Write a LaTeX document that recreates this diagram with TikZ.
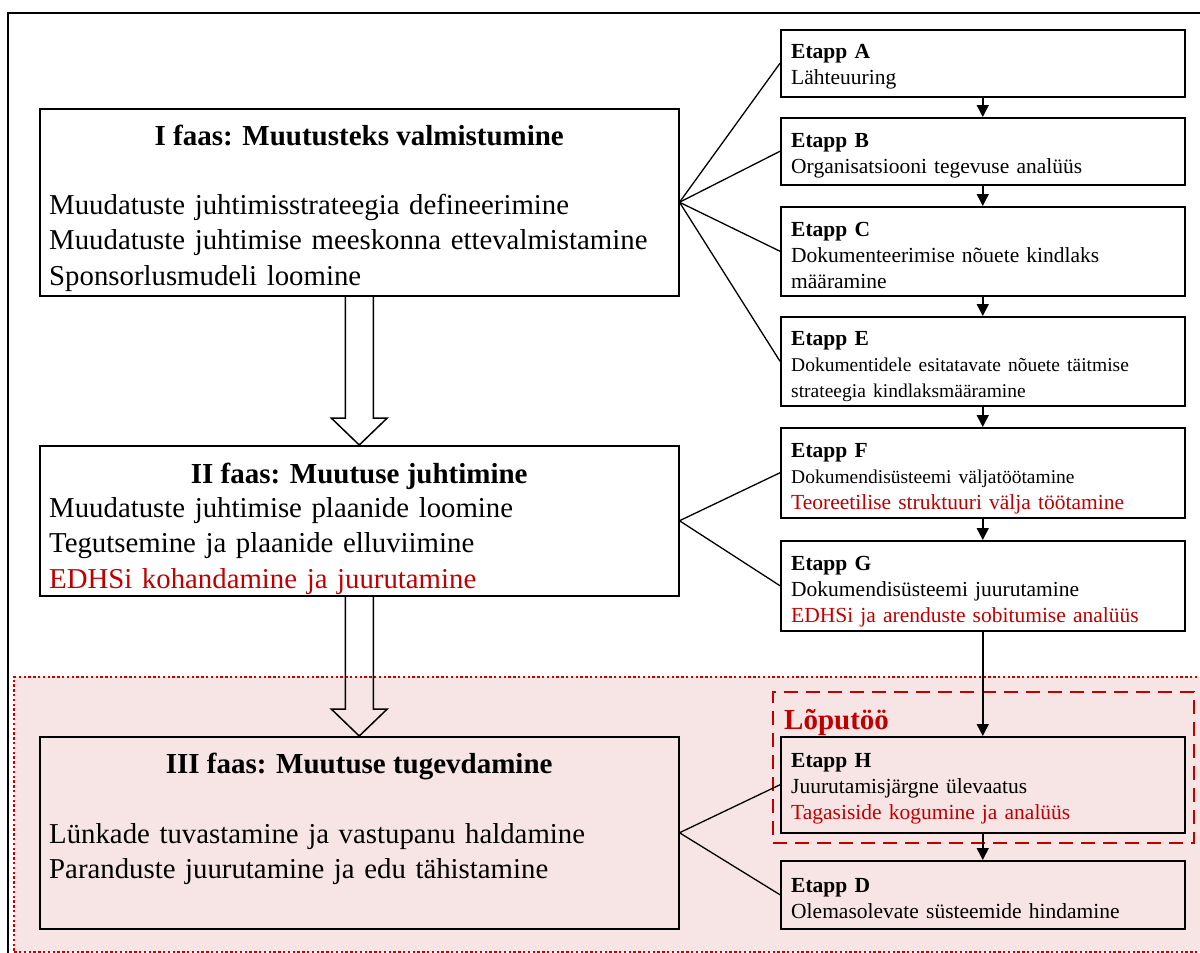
\documentclass[tikz,border=0pt]{standalone}
\usepackage{fontspec}
\setmainfont{Liberation Serif}
\usepackage{tikz}
\usetikzlibrary{arrows.meta, positioning, calc}

\definecolor{thesisred}{RGB}{192,0,0}
\definecolor{regionred}{RGB}{204,0,0}
\definecolor{thesispink}{RGB}{247,229,229}
\newcommand{\etappsmall}{\fontsize{19.5}{26}\selectfont}

\begin{document}
\begin{tikzpicture}[
    x=1pt, y=-1pt,
    phasebox/.style={draw=black, line width=1.5pt, anchor=north west, minimum width=639pt, inner sep=0pt},
    etappbox/.style={draw=black, line width=1.5pt, anchor=north west, minimum width=404pt, inner sep=0pt},
    phasetitle/.style={anchor=base, inner sep=0pt, font=\fontsize{29}{35}\selectfont\bfseries},
    phasetext/.style={anchor=base west, inner sep=0pt, text width=620pt, align=left, font=\fontsize{28.8}{35.5}\selectfont},
    etapptext/.style={anchor=base west, inner sep=0pt, text width=390pt, align=left, font=\fontsize{21.5}{26}\selectfont},
    link/.style={line width=1.3pt},
    flow/.style={line width=1.5pt, -{Triangle[length=12pt, width=12pt]}},
    hollowarrow/.style={draw=black, line width=1.5pt, line join=miter},
    ]

    \useasboundingbox (0,0) rectangle (1200,953);

    \node[draw=black, line width=1.6pt, anchor=north west, minimum width=1220pt, minimum height=960pt, inner sep=0pt] (frame) at (7,12) {};
    \node[draw=regionred, fill=thesispink, line width=2.2pt, dash pattern=on 2.4pt off 2.4pt, anchor=north west, minimum width=1210pt, minimum height=275pt, inner sep=0pt] (region) at (13,676) {};
    \node[draw=thesisred, line width=2.4pt, dash pattern=on 14pt off 8pt, anchor=north west, minimum width=421pt, minimum height=151pt, inner sep=0pt] (thesis) at (772,691) {};
    \node[anchor=base west, inner sep=0pt, text=thesisred, font=\fontsize{29}{35}\selectfont\bfseries] (thesislabel) at (784,729) {Lõputöö};

    \node[phasebox, minimum height=187pt] (f1) at (39,108) {};
    \node[phasebox, minimum height=150pt] (f2) at (39,445) {};
    \node[phasebox, minimum height=192pt] (f3) at (39,736) {};

    \node[phasetitle] (f1title) at ([yshift=-37pt]f1.north) {I faas: Muutusteks valmistumine};
    \node[phasetext]  (f1text)  at ([xshift=10pt, yshift=-106pt]f1.north west)
        {Muudatuste juhtimisstrateegia defineerimine\\Muudatuste juhtimise meeskonna ettevalmistamine\\Sponsorlusmudeli loomine};
    \node[phasetitle] (f2title) at ([yshift=-38pt]f2.north) {II faas: Muutuse juhtimine};
    \node[phasetext]  (f2text)  at ([xshift=10pt, yshift=-72pt]f2.north west)
        {Muudatuste juhtimise plaanide loomine\\Tegutsemine ja plaanide elluviimine\\\textcolor{thesisred}{EDHSi kohandamine ja juurutamine}};
    \node[phasetitle] (f3title) at ([yshift=-37pt]f3.north) {III faas: Muutuse tugevdamine};
    \node[phasetext]  (f3text)  at ([xshift=10pt, yshift=-107pt]f3.north west)
        {Lünkade tuvastamine ja vastupanu haldamine\\Paranduste juurutamine ja edu tähistamine};

    \node[etappbox, minimum height=67pt] (ea) at (780,29)  {};
    \node[etappbox, minimum height=67pt] (eb) at (780,117) {};
    \node[etappbox, minimum height=89pt] (ec) at (780,206) {};
    \node[etappbox, minimum height=89pt] (ee) at (780,316) {};
    \node[etappbox, minimum height=90pt] (ef) at (780,427) {};
    \node[etappbox, minimum height=90pt] (eg) at (780,540) {};
    \node[etappbox, minimum height=96pt] (eh) at (780,736) {};
    \node[etappbox, minimum height=68pt] (ed) at (780,860) {};

    \node[etapptext] (eatext) at ([xshift=11pt, yshift=-29pt]ea.north west) {\textbf{Etapp A}\\Lähteuuring};
    \node[etapptext] (ebtext) at ([xshift=11pt, yshift=-30pt]eb.north west) {\textbf{Etapp B}\\Organisatsiooni tegevuse analüüs};
    \node[etapptext] (ectext) at ([xshift=11pt, yshift=-30pt]ec.north west) {\textbf{Etapp C}\\Dokumenteerimise nõuete kindlaks\\määramine};
    \node[etapptext] (eetext) at ([xshift=11pt, yshift=-29pt]ee.north west)
        {\textbf{Etapp E}\\{\etappsmall Dokumentidele esitatavate nõuete täitmise}\\{\etappsmall strateegia kindlaksmääramine}};
    \node[etapptext] (eftext) at ([xshift=11pt, yshift=-30pt]ef.north west)
        {\textbf{Etapp F}\\{\etappsmall Dokumendisüsteemi väljatöötamine}\\\textcolor{thesisred}{Teoreetilise struktuuri välja töötamine}};
    \node[etapptext] (egtext) at ([xshift=11pt, yshift=-30pt]eg.north west)
        {\textbf{Etapp G}\\Dokumendisüsteemi juurutamine\\\textcolor{thesisred}{EDHSi ja arenduste sobitumise analüüs}};
    \node[etapptext] (ehtext) at ([xshift=11pt, yshift=-31pt]eh.north west)
        {\textbf{Etapp H}\\Juurutamisjärgne ülevaatus\\\textcolor{thesisred}{Tagasiside kogumine ja analüüs}};
    \node[etapptext] (edtext) at ([xshift=11pt, yshift=-32pt]ed.north west) {\textbf{Etapp D}\\Olemasolevate süsteemide hindamine};

    \draw[hollowarrow] ($(f1.south)+(-14,0)$) -- ($(f2.north)+(-14,-27)$) -- ($(f2.north)+(-28,-27)$) -- (f2.north)
        -- ($(f2.north)+(28,-27)$) -- ($(f2.north)+(14,-27)$) -- ($(f1.south)+(14,0)$);
    \draw[hollowarrow] ($(f2.south)+(-14,0)$) -- ($(f3.north)+(-14,-27)$) -- ($(f3.north)+(-28,-27)$) -- (f3.north)
        -- ($(f3.north)+(28,-27)$) -- ($(f3.north)+(14,-27)$) -- ($(f2.south)+(14,0)$);

    \draw[link] (f1.east) -- (ea.west);
    \draw[link] (f1.east) -- (eb.west);
    \draw[link] (f1.east) -- (ec.west);
    \draw[link] (f1.east) -- (ee.west);
    \draw[link] (f2.east) -- (ef.west);
    \draw[link] (f2.east) -- (eg.west);
    \draw[link] (f3.east) -- (eh.west);
    \draw[link] (f3.east) -- (ed.west);

    \draw[flow] (ea) -- (eb);
    \draw[flow] (eb) -- (ec);
    \draw[flow] (ec) -- (ee);
    \draw[flow] (ee) -- (ef);
    \draw[flow] (ef) -- (eg);
    \draw[flow] (eg) -- (eh);
    \draw[flow] (eh) -- (ed);

\end{tikzpicture}
\end{document}
